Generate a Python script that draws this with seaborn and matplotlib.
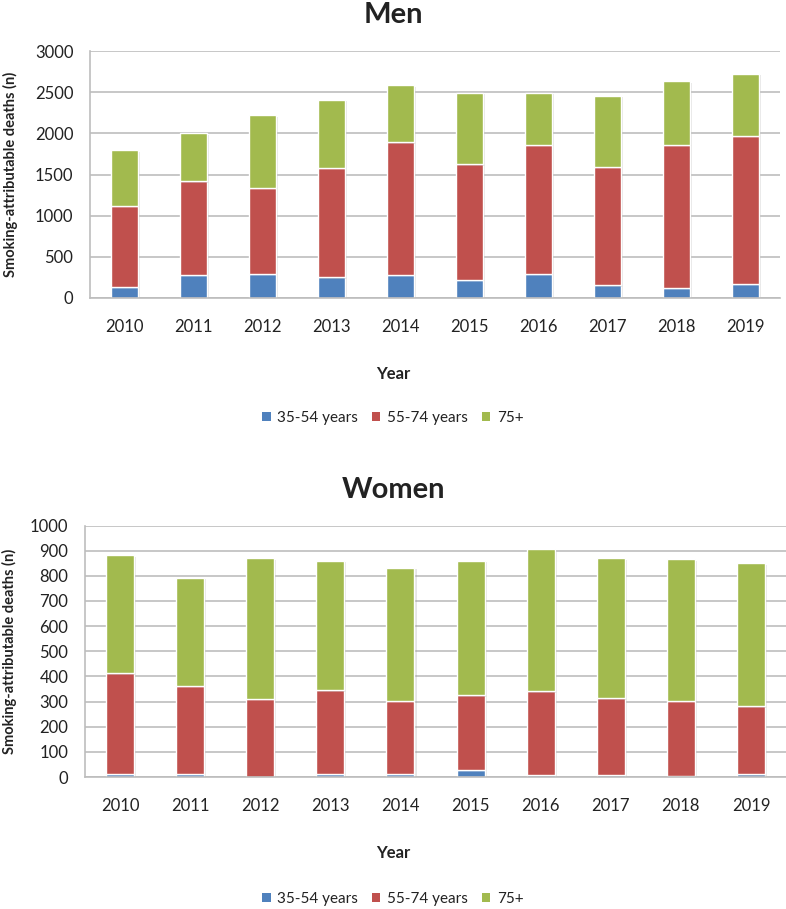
import numpy as np
import pandas as pd
import matplotlib
matplotlib.use("Agg")
import matplotlib.pyplot as plt
import matplotlib.patheffects as pe
from matplotlib.patches import Patch
import seaborn as sns

years = ["2010", "2011", "2012", "2013", "2014", "2015", "2016", "2017", "2018", "2019"]
groups = ["35-54 years", "55-74 years", "75+"]

men_35_54 = [134, 279, 296, 251, 279, 219, 296, 154, 126, 170]
men_55_74 = [987, 1138, 1044, 1328, 1612, 1405, 1567, 1437, 1737, 1802]
men_75 = [673, 583, 879, 830, 692, 866, 627, 867, 769, 753]

women_35_54 = [12, 12, 0, 12, 12, 28, 6, 6, 2, 11]
women_55_74 = [401, 350, 312, 333, 292, 297, 335, 307, 300, 270]
women_75 = [468, 430, 558, 515, 529, 535, 567, 557, 563, 568]

colors = ["#4F81BD", "#C0504D", "#A2BA4E"]

sns.set_theme(style="white")
plt.rcParams["font.family"] = ["Lato", "DejaVu Sans"]

fig = plt.figure(figsize=(7.86, 9.09), dpi=100)

def draw(ax, series, ymax, ystep, title, title_y, year_y, legend_y):
    df = pd.DataFrame({"Year": years})
    bottom = np.zeros(len(years))
    shadow = [pe.SimplePatchShadow(offset=(1.5, -1), shadow_rgbFace="0.6", alpha=0.25), pe.Normal()]
    for name, vals, c in zip(groups, series, colors):
        df[name] = vals
        sns.barplot(data=df, x="Year", y=name, color=c, bottom=bottom, width=0.4,
                    edgecolor="white", linewidth=1.0, ax=ax, saturation=1)
        bottom = bottom + np.array(vals, dtype=float)
    for p in ax.patches:
        p.set_path_effects(shadow)
    ax.set_ylim(0, ymax)
    ax.set_xlim(-0.5, len(years) - 0.5)
    ax.set_yticks(np.arange(0, ymax + 1, ystep))
    ax.yaxis.grid(True, color="#BDBDBD", linewidth=1.2)
    ax.set_axisbelow(True)
    for s in ["top", "right"]:
        ax.spines[s].set_visible(False)
    for s in ["left", "bottom"]:
        ax.spines[s].set_color("#BDBDBD")
        ax.spines[s].set_linewidth(1.2)
    ax.tick_params(axis="x", length=0, pad=15, labelsize=12, labelcolor="#222222")
    ax.tick_params(axis="y", length=0, pad=12, labelsize=12, labelcolor="#222222")
    ax.set_xlabel("")
    ax.set_ylabel("Smoking-attributable deaths (n)", fontsize=10.5, fontweight="bold", color="#222222")
    fig.text(0.5, 1 - title_y / 909, title, ha="center", va="center", fontsize=21,
             fontweight="bold", color="#222222")
    fig.text(0.5, 1 - year_y / 909, "Year", ha="center", va="center", fontsize=12,
             fontweight="bold", color="#222222")
    handles = [Patch(facecolor=c, edgecolor="none", label=g) for g, c in zip(groups, colors)]
    ax.legend(handles=handles, loc="center", bbox_to_anchor=(0.5, 1 - legend_y / 909),
              bbox_transform=fig.transFigure, ncol=3, frameon=False, fontsize=11,
              handlelength=0.55, handleheight=0.55, handletextpad=0.45, columnspacing=0.9,
              labelcolor="#222222")

ax1 = fig.add_axes([90 / 786, 1 - 298 / 909, 690 / 786, 247 / 909])
draw(ax1, [men_35_54, men_55_74, men_75], 3000, 500, "Men", 15, 374, 418)
ax1.yaxis.set_label_coords(-0.105, 0.5)

ax2 = fig.add_axes([85 / 786, 1 - 777 / 909, 701 / 786, 251.5 / 909])
draw(ax2, [women_35_54, women_55_74, women_75], 1000, 100, "Women", 490, 853, 899)
ax2.yaxis.set_label_coords(-0.097, 0.5)

fig.savefig("out.png", dpi=100)
